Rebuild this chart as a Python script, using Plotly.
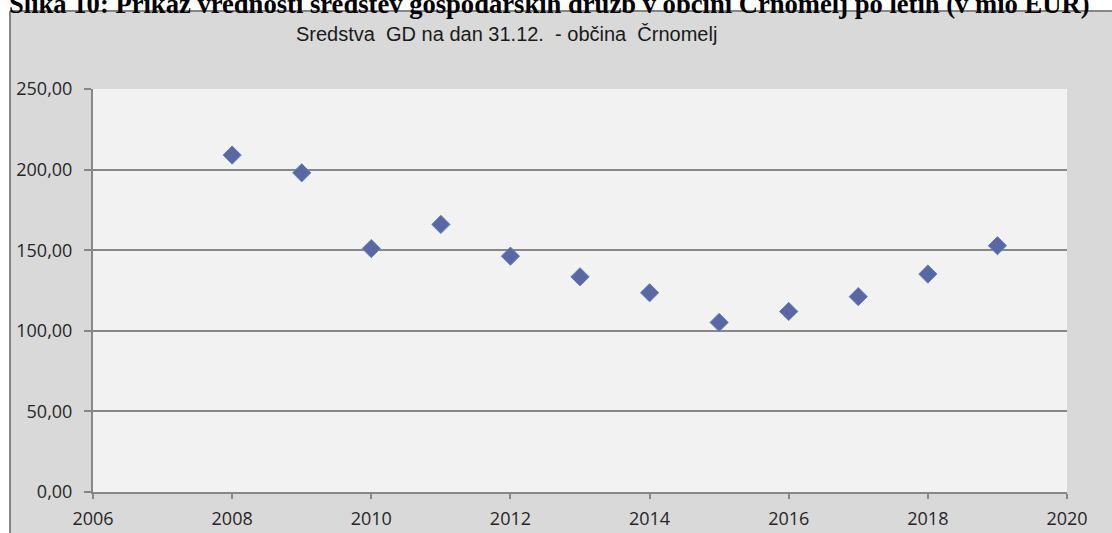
import plotly.graph_objects as go

years = [2008, 2009, 2010, 2011, 2012, 2013, 2014, 2015, 2016, 2017, 2018, 2019]
values = [209.0, 198.0, 151.0, 166.0, 146.3, 133.5, 123.6, 105.2, 112.0, 121.2, 135.2, 152.8]
y_ticks = [0, 50, 100, 150, 200, 250]
y_tick_labels = ["0,00", "50,00", "100,00", "150,00", "200,00", "250,00"]
x_ticks = [2006, 2008, 2010, 2012, 2014, 2016, 2018, 2020]
title_text = "Sredstva\u00a0 GD na dan 31.12.\u00a0 - občina\u00a0 Črnomelj"
caption_text = "Slika 10: Prikaz vrednosti sredstev gospodarskih družb v občini Črnomelj po letih (v mio EUR)"

W, H = 1112, 533
L, R, T, B = 93, 1067, 89, 492


def px(x):
    return (x - L) / (R - L)


def py(y):
    return (B - y) / (B - T)


grid = "#878787"
fig = go.Figure()
fig.add_trace(go.Scatter(
    x=years, y=values, mode="markers",
    marker=dict(symbol="diamond", size=14, color="#5a67a3",
                line=dict(color="#5b82c4", width=1)),
    hoverinfo="x+y", showlegend=False,
))

shapes = [
    dict(type="rect", xref="paper", yref="paper", x0=px(0), x1=px(W), y0=py(0), y1=py(11),
         fillcolor="white", line=dict(width=0), layer="above"),
    dict(type="rect", xref="paper", yref="paper", x0=px(0), x1=px(10), y0=py(0), y1=py(H),
         fillcolor="white", line=dict(width=0), layer="above"),
    dict(type="line", xref="paper", yref="paper", x0=px(10), x1=px(10), y0=py(11), y1=py(H),
         line=dict(color=grid, width=2), layer="above"),
    dict(type="line", xref="paper", yref="paper", x0=px(10), x1=px(W), y0=py(11), y1=py(11),
         line=dict(color=grid, width=2), layer="above"),
]

annotations = [
    dict(text=caption_text, xref="paper", yref="paper", x=px(8), y=py(20), xanchor="left",
         yanchor="bottom", showarrow=False,
         font=dict(family="Liberation Serif", size=26.6, color="black", weight="bold"), borderpad=0),
    dict(text=title_text, xref="paper", yref="paper", x=px(506), y=py(34), xanchor="center",
         yanchor="middle", showarrow=False,
         font=dict(family="Liberation Sans", size=20, color="#1a1a1a")),
]

fig.update_layout(
    width=W, height=H, autosize=False,
    margin=dict(l=L, r=W - R, t=T, b=H - B, pad=0, autoexpand=False),
    paper_bgcolor="#d9d9d9", plot_bgcolor="#f2f2f2",
    shapes=shapes, annotations=annotations,
    font=dict(family="Open Sans", size=18, color="#262626"),
)
fig.update_xaxes(
    range=[2006, 2020], tickvals=x_ticks, ticktext=[str(t) for t in x_ticks],
    showgrid=False, zeroline=False, showline=True, linecolor=grid, linewidth=2,
    ticks="outside", ticklen=5, tickwidth=2, tickcolor=grid, ticklabelstandoff=4,
    automargin=False,
)
fig.update_yaxes(
    range=[0, 250], tickvals=y_ticks, ticktext=y_tick_labels,
    showgrid=True, gridcolor=grid, gridwidth=2, zeroline=False,
    showline=True, linecolor=grid, linewidth=2,
    ticks="outside", ticklen=7, tickwidth=2, tickcolor=grid, ticklabelstandoff=8,
    automargin=False,
)

fig.write_html(
    "out.html",
    config={"responsive": False, "displayModeBar": False},
    post_script="document.body.style.margin='0';document.body.style.overflow='hidden';",
)
